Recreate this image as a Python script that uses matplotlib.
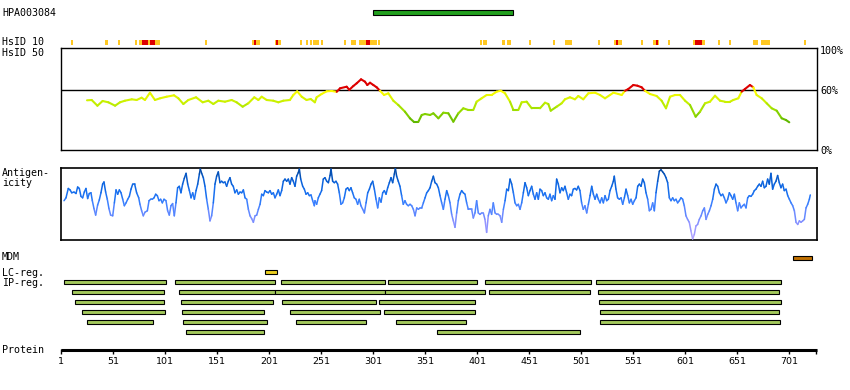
import matplotlib
matplotlib.use('Agg')
import matplotlib.pyplot as plt
import numpy as np
from matplotlib.collections import LineCollection
from matplotlib.colors import LinearSegmentedColormap, Normalize

# ---------------- data ----------------
PROT_LEN = 727
antibody = "HPA003084"
antibody_range = (301, 435)

hsid10_mid = [(10.5, 12.5), (43, 46), (55.5, 57.5), (72, 74), (76, 96), (139, 141), (185, 192),
              (207, 212), (230.5, 232.5), (236.5, 238.5), (240, 242), (243, 249), (251, 253),
              (273, 275), (280, 285), (287, 305), (306, 308), (404, 406), (407, 410),
              (425, 428), (430, 434), (451, 453), (474, 476), (485, 492), (517, 519),
              (533, 540), (558.5, 560.5), (570, 576), (584, 586), (608, 620), (632.5, 634.5),
              (643, 645), (666, 671), (674, 682), (715, 717)]
hsid10_high = [(79, 85), (87, 91), (186.5, 188), (208, 210), (294, 298), (534, 536),
               (573, 575), (610, 617)]

hs50_pos = [26, 30.5, 36, 41, 46.5, 53, 57.7, 62.5, 69, 73.7,
            78.5, 81.7, 86.5, 91.3, 96.2, 102.6, 109.6, 113.8, 118.6, 123.4,
            130.8, 137.2, 142.6, 147.4, 152.2, 158.6, 165, 169.8, 175.6, 181,
            186.8, 190.7, 193.9, 198.7, 205, 209.9, 214.7, 221, 224.3, 228,
            232.3, 237, 241, 245,
            246.7, 251.5, 256.4, 261.2, 266, 269.2, 275.6, 278.1, 282, 285.2,
            289.4, 293.2, 295.4, 298, 301.2, 304.4, 307.6, 311.5, 315.6, 320.4,
            325.2, 331.6, 336.4, 340.3, 344.4, 347.7, 350.9, 355.7, 358.9, 363.7,
            368.5, 373.3, 378.1, 382.9, 387.7, 392.5, 397.3, 400.5, 405.3, 410.1,
            414.9, 419.7, 423.6, 427.8, 432.6, 435.8, 440.6, 443.8, 448.6, 453.4,
            461.4, 466.2, 469.4, 471.7, 477.4, 482.2,
            485.4, 490.2, 495, 498.2, 503, 507.9, 514.3, 519.1, 523.9, 528.7,
            531.9, 536.7, 539.9, 543.1, 546.3, 551.1, 555, 559.1, 562.3, 567.1,
            573.5, 578.3, 582.5, 586.4, 591.2, 596, 600.8, 605.6, 611, 615.2,
            620, 624.8, 629.6, 634.4, 639.2, 644, 647.2, 652, 655.2, 658.4,
            663.2, 666.4, 669.6, 674.5, 679.3, 684.1, 688.9, 693.7, 697.8, 701]
hs50_pct = [50, 50.3, 44.6, 49.3, 48, 44.6, 48, 49.6, 51, 50.3,
            52.6, 50.3, 57.6, 50.3, 52, 53.6, 55, 52, 46.3, 50.3,
            53, 48, 49.6, 46.3, 49.6, 48.6, 50.3, 48, 43.6, 47,
            53, 50.3, 53.6, 50.3, 49.6, 48, 49.6, 50.3, 55.3, 59,
            53.6, 50.3, 51.3, 48,
            53, 56.3, 59, 59.3, 58.5, 62, 63.6, 60.5, 64.3, 67,
            71, 68.6, 65.3, 67.6, 65.3, 63, 59.6, 55.3, 57, 49.6,
            45.3, 38.6, 32, 28.3, 28.3, 35.3, 36.3, 35.3, 37, 32,
            37.6, 37, 28.6, 37, 42, 40.3, 40.3, 48.6, 52, 55.3,
            55.3, 58.6, 59.6, 57, 48.6, 40.3, 40.3, 48, 48.6, 42,
            42, 47.6, 46.3, 39.6, 43.6, 47,
            51, 53, 51, 54.3, 51, 57, 57.6, 55.3, 52, 55.3,
            57.6, 56.3, 55.3, 59.5, 61.3, 65.3, 64.6, 63, 59.5, 56.3,
            54.3, 49.6, 42, 53.6, 55.3, 55.3, 49.6, 45.3, 33.6, 38.6,
            47, 48.6, 54.6, 49.6, 48.6, 48.6, 50.3, 52, 58.6, 61.3,
            65.3, 63, 55.3, 52, 47, 42, 39.6, 32, 30.3, 28]

ag_pos = [3.9, 5.8, 8.0, 9.7, 11.3, 13.5, 15.4, 17.0, 18.6, 20.2,
          21.8, 23.4, 25.0, 26.6, 28.2, 29.8, 31.1, 32.7, 34.3, 36.2,
          37.8, 39.4, 41.0, 42.3, 43.9, 45.5, 47.1, 48.7, 50.7, 52.3,
          53.9, 55.5, 57.1, 58.7, 60.3, 61.9, 63.5, 65.1, 66.7, 68.3,
          69.9, 71.8, 73.7, 75.7, 76.9, 78.5, 80.1, 81.7, 84.0, 85.6,
          87.2, 88.8, 90.4, 92.0, 93.6, 95.2, 96.8, 98.4, 100.0, 101.9,
          103.5, 105.1, 106.7, 108.3, 109.9, 111.5, 113.1, 114.7, 116.3, 117.9,
          119.5, 121.2, 122.8, 124.4, 126.0, 127.6, 129.2, 130.8, 132.4, 134.0,
          134.9, 136.2, 137.8, 139.4, 141.0, 142.6, 144.2, 145.8, 147.4, 149.0,
          150.6, 152.2, 153.8, 155.4, 157.0, 158.6, 160.2, 161.8, 163.4, 165.0,
          166.6, 168.2, 169.9, 171.5, 173.1, 174.7, 176.3, 177.9, 179.5, 181.1,
          182.7, 184.3, 185.9, 187.5, 189.1, 190.7, 192.3, 193.9, 195.5, 197.1,
          198.7, 200.3, 201.9, 203.5, 205.1, 206.7, 208.3, 209.9, 211.5, 213.1,
          214.7, 216.3, 217.9, 219.5, 221.1, 222.7, 224.3, 225.9, 227.5, 229.1,
          230.1, 231.4, 233.3, 234.9, 236.5, 238.1, 239.7, 241.3, 242.9, 244.5,
          245.1, 246.7, 248.3, 249.9, 251.5, 253.1, 254.7, 256.4, 258.0, 259.6,
          260.5, 262.1, 263.7, 265.3, 266.9, 268.5, 270.1, 271.7, 273.3, 274.9,
          276.5, 278.1, 279.7, 281.3, 282.9, 284.5, 286.1, 287.7, 289.3, 291.0,
          292.6, 294.2, 295.8, 297.4, 299.0, 300.6, 302.2, 303.8, 305.4, 307.0,
          308.6, 310.2, 311.8, 313.4, 315.0, 316.6, 318.2, 319.8, 321.4, 322.4,
          323.6, 325.2, 326.8, 328.4, 330.0, 331.6, 333.2, 334.8, 336.5, 338.1,
          339.7, 341.3, 342.9, 344.5, 346.1, 347.7, 349.3, 350.9, 352.5, 354.1,
          355.7, 357.3, 358.9, 360.5, 362.1, 363.7, 365.3, 366.9, 368.5, 370.1,
          371.7, 373.3, 374.9, 376.5, 378.1, 379.7, 381.3, 382.9, 384.5, 386.1,
          387.7, 389.3, 390.9, 392.5, 394.1, 395.7, 397.3, 398.9, 400.5, 402.1,
          403.7, 405.3, 406.9, 408.5, 410.1, 411.7, 413.3, 414.9, 416.5, 418.2,
          419.8, 421.4, 423.0, 424.6, 426.2, 427.8, 429.4, 431.0, 432.6, 434.2,
          435.8, 437.4, 439.0, 440.6, 442.2, 443.8, 445.4, 447.0, 448.6, 450.2,
          451.8, 453.4, 455.0, 456.6, 458.2, 459.8, 461.4, 463.0, 464.6, 466.2,
          467.8, 469.4, 471.0, 472.6, 474.2, 475.8, 477.4, 479.0, 480.6, 482.2,
          483.8, 485.4,
          487.0, 488.6, 490.2, 491.8, 493.4, 495.0, 496.6, 498.2, 499.8, 501.4,
          503.0, 504.6, 506.3, 507.9, 509.5, 511.1, 512.7, 514.3, 515.9, 517.5,
          519.1, 520.7, 522.3, 523.9, 525.5, 527.1, 528.7, 530.3, 531.9, 532.8,
          534.4, 536.0, 537.7, 539.3, 540.9, 542.5, 544.1, 545.7, 547.3, 548.9,
          550.5, 552.1, 553.7, 555.3, 556.9, 558.5, 560.1, 561.7, 563.3, 564.9,
          566.5, 568.1, 569.7, 571.3, 572.9, 574.5, 576.1, 577.7, 579.3, 580.9,
          582.5, 584.1, 585.7, 587.3, 588.9, 590.5, 592.1, 593.7, 595.3, 596.9,
          598.5, 600.1, 601.7, 603.3, 604.9, 606.5, 608.1, 609.7, 611.3, 612.9,
          614.5, 616.2, 617.8, 619.4, 621.0, 622.6, 624.2, 625.8, 627.4, 629.0,
          630.6, 632.2, 633.8, 635.4, 637.0, 638.6, 640.2, 641.8, 643.4, 645.0,
          646.6, 648.2, 649.8, 651.4, 653.0, 654.6, 656.2, 657.8, 659.4, 661.0,
          662.6, 664.2, 665.8, 667.4, 669.0, 670.6, 672.2, 673.8, 675.4, 677.0,
          678.6, 680.2, 681.8, 683.4, 685.0, 686.6, 688.2, 689.8, 691.4, 693.0,
          694.6, 696.2, 697.9, 699.5, 701.1, 702.7, 704.3, 705.9, 707.5, 709.1,
          710.7, 712.3, 713.9, 715.5, 717.1, 718.7, 720.3, 721.2]
ag_val = [55, 59, 72, 70, 66, 67, 65, 74, 72, 61,
          59, 67, 72, 58, 65, 66, 55, 44, 35, 49,
          56, 66, 78, 81, 67, 57, 44, 35, 34, 52,
          70, 64, 70, 66, 57, 48, 52, 57, 61, 71,
          78, 78, 66, 59, 50, 41, 34, 39, 41, 55,
          57, 57, 59, 64, 62, 55, 57, 52, 57, 55,
          41, 35, 48, 51, 34, 52, 73, 75, 66, 78,
          86, 93, 78, 69, 59, 66, 57, 69, 78, 92,
          99, 93, 87, 75, 57, 43, 27, 34, 52, 78,
          89, 95, 80, 82, 80, 81, 75, 82, 87, 78,
          75, 66, 70, 64, 67, 66, 70, 59, 57, 43,
          34, 30, 25, 34, 35, 43, 50, 64, 62, 69,
          67, 66, 69, 64, 66, 59, 64, 70, 62, 69,
          82, 85, 82, 85, 78, 87, 82, 75, 89, 94,
          99, 85, 75, 71, 64, 66, 62, 63, 55, 48,
          55, 50, 59, 64, 69, 85, 87, 82, 80, 90,
          99, 82, 80, 82, 78, 66, 50, 52, 59, 71,
          73, 69, 73, 66, 59, 57, 50, 57, 48, 43,
          38, 52, 66, 71, 78, 82, 71, 57, 45, 59,
          53, 66, 69, 64, 73, 80, 87, 80, 92, 100,
          89, 82, 75, 62, 50, 55, 50, 48, 50, 48,
          43, 34, 45, 43, 45, 45, 52, 59, 66, 69,
          73, 82, 89, 80, 78, 73, 62, 52, 43, 57,
          69, 62, 52, 36, 27, 18, 38, 55, 64, 69,
          66, 64, 52, 43, 43, 43, 31, 38, 55, 38,
          36, 38, 38, 29, 11, 34, 43, 36, 52, 38,
          36, 36, 34, 25, 43, 55, 71, 69, 85, 78,
          66, 52, 48, 50, 43, 52, 66, 80, 73, 62,
          69, 75, 64, 57, 66, 57, 71, 69, 62, 66,
          59, 57, 64, 55, 62, 57, 85, 78, 66, 73,
          69, 75,
          66, 57, 64, 62, 71, 72, 70, 75, 69, 52,
          43, 48, 38, 50, 62, 75, 64, 57, 64, 57,
          52, 59, 52, 62, 55, 57, 69, 75, 82, 89,
          71, 59, 57, 59, 50, 59, 71, 62, 52, 57,
          50, 55, 59, 75, 78, 75, 85, 80, 66, 57,
          41, 43, 52, 41, 66, 82, 96, 98, 95, 92,
          87, 80, 59, 55, 59, 55, 57, 52, 55, 59,
          57, 48, 34, 29, 25, 13, 2, 8, 20, 22,
          29, 34, 41, 45, 29, 36, 41, 48, 57, 71,
          78, 75, 66, 62, 64, 59, 52, 57, 66, 62,
          57, 64, 52, 41, 52, 45, 48, 50, 45, 59,
          62, 61, 64, 69, 71, 75, 78, 75, 82, 73,
          75, 85, 78, 93, 71, 78, 82, 90, 80, 73,
          78, 69, 71, 62, 57, 52, 48, 41, 25, 22,
          27, 25, 27, 29, 45, 50, 57, 63]

mdm_range = (705, 723)
lc_range = (197, 209)
ip_rows = [
    [(4, 102), (111, 207), (212, 312), (315, 401), (409, 510), (515, 693)],
    [(12, 100), (114, 207), (207, 312), (312, 409), (412, 509), (517, 691)],
    [(14, 100), (116, 205), (213, 304), (307, 399), (518, 693)],
    [(21, 101), (117, 196), (221, 308), (311, 399), (519, 691)],
    [(26, 89), (118, 199), (227, 294), (323, 390), (519, 692)],
    [(121, 196), (362, 500)],
]
tick_pos = [1, 51, 101, 151, 201, 251, 301, 351, 401, 451, 501, 551, 601, 651, 701]

# ---------------- layout ----------------
W, H = 850, 390
PX0, PXR = 61.0, 1.0404          # pixel of residue 1, pixels per residue


def res_at(px):
    return 1 + (px - PX0) / PXR


MONO = 'DejaVu Sans Mono'
FS = 7.2

fig = plt.figure(figsize=(W / 100, H / 100), dpi=100)
fig.patch.set_facecolor('white')

base = fig.add_axes([0, 0, 1, 1])
base.set_xlim(res_at(0), res_at(W))
base.set_ylim(H, 0)
base.axis('off')


def ftext(x, y, s, **kw):
    kw.setdefault('family', MONO)
    kw.setdefault('fontsize', FS)
    fig.text(x / W, 1 - y / H, s, va='center', ha=kw.pop('ha', 'left'), **kw)


# labels
ftext(2, 12.5, antibody)
ftext(2, 42.3, "HsID 10")
ftext(2, 52.5, "HsID 50")
ftext(2, 173.0, "Antigen-")
ftext(2, 183.5, "icity")
ftext(2, 257.0, "MDM")
ftext(2, 272.5, "LC-reg.")
ftext(2, 282.5, "IP-reg.")
ftext(2, 350.0, "Protein")

# antibody bar
base.barh(12.4, antibody_range[1] - antibody_range[0], left=antibody_range[0], height=4.4,
          color='#22a01e', edgecolor='black', linewidth=0.8)

# HsID 10
for s, e in hsid10_mid:
    base.barh(42.4, e - s, left=s, height=4.8, color='#ffc822', linewidth=0)
for s, e in hsid10_high:
    base.barh(42.4, e - s, left=s, height=4.8, color='#dd0000', linewidth=0)

# MDM / LC / IP bars
base.barh(257.8, mdm_range[1] - mdm_range[0], left=mdm_range[0], height=4.6,
          color='#c07000', edgecolor='black', linewidth=0.8)
base.barh(272.2, lc_range[1] - lc_range[0], left=lc_range[0], height=4.0,
          color='#ecd020', edgecolor='black', linewidth=0.8)
for i, row in enumerate(ip_rows):
    y = 282.3 + 10 * i
    for s, e in row:
        base.barh(y, e - s, left=s, height=4.0, color='#a3c95c', edgecolor='black',
                  linewidth=0.8)

# protein axis
base.hlines(349.6, 1, PROT_LEN + 0.5, color='black', lw=2.2)
base.vlines(tick_pos + [PROT_LEN], 349.0, 353.8, color='black', lw=1.0)
for t in tick_pos:
    base.text(t, 361.2, str(t), ha='center', va='center', fontsize=6.8,
              family='DejaVu Sans')

# ---------------- HsID 50 panel ----------------
L, R = 60.5, 816.7
ax1 = fig.add_axes([L / W, 1 - 150.3 / H, (R - L) / W, 102 / H])
ax1.set_xlim(res_at(L), res_at(R))
ax1.set_ylim(0, 102)
for sp in ax1.spines.values():
    sp.set_linewidth(1.0)
ax1.set_xticks([])
ax1.yaxis.tick_right()
ax1.set_yticks([0, 60, 100])
ax1.set_yticklabels(['0%', '60%', '100%'], family=MONO, fontsize=FS)
ax1.tick_params(axis='y', length=0, pad=2.5)
ax1.axhline(60, color='black', lw=1.0, zorder=1)

hs_cmap = LinearSegmentedColormap.from_list('hs', [
    (0.0, '#3f9a00'), (0.28, '#5cb400'), (0.38, '#8ed800'), (0.48, '#c6f000'),
    (0.54, '#e4f600'), (0.58, '#fbfb00'), (0.5999, '#ffff00'), (0.6, '#dd0000'),
    (1.0, '#dd0000')])
pts = np.column_stack([hs50_pos, hs50_pct])
segs = np.stack([pts[:-1], pts[1:]], axis=1)
mid = (pts[:-1, 1] + pts[1:, 1]) / 2
lc1 = LineCollection(segs, cmap=hs_cmap, norm=Normalize(0, 100), linewidths=1.5,
                     capstyle='round', zorder=3)
lc1.set_array(mid)
ax1.add_collection(lc1)

# ---------------- Antigenicity panel ----------------
ax2 = fig.add_axes([L / W, 1 - 240.3 / H, (R - L) / W, 72 / H])
ax2.set_xlim(res_at(L), res_at(R))
ax2.set_ylim(0, 100)
for sp in ax2.spines.values():
    sp.set_linewidth(1.2)
ax2.set_xticks([])
ax2.set_yticks([])

ag_cmap = LinearSegmentedColormap.from_list('ag', [
    (0.0, '#b8a8ff'), (0.2, '#9494ff'), (0.38, '#6288ff'), (0.52, '#3a80ff'),
    (0.65, '#1870f0'), (0.8, '#0a62dc'), (1.0, '#00449c')])
pts2 = np.column_stack([ag_pos, ag_val])
segs2 = np.stack([pts2[:-1], pts2[1:]], axis=1)
mid2 = (pts2[:-1, 1] + pts2[1:, 1]) / 2
lc2 = LineCollection(segs2, cmap=ag_cmap, norm=Normalize(0, 100), linewidths=1.1,
                     capstyle='round', zorder=3)
lc2.set_array(mid2)
ax2.add_collection(lc2)

fig.savefig('out.png', dpi=100, facecolor='white')
